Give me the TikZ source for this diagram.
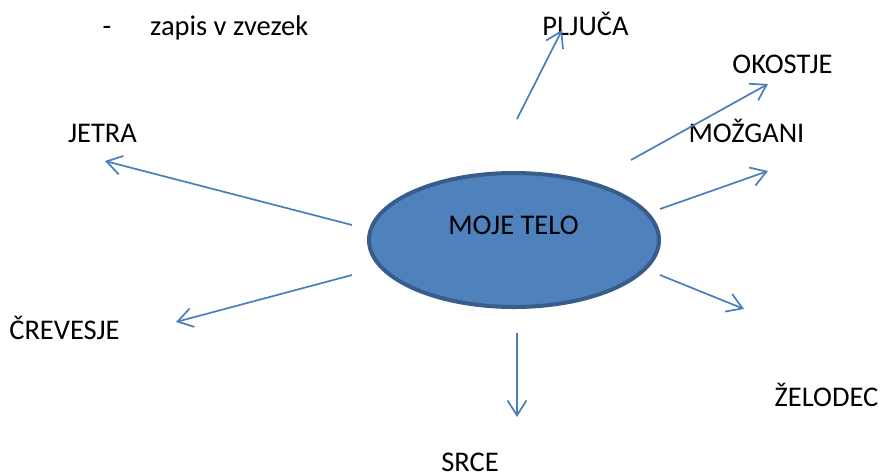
\documentclass[tikz,border=0pt]{standalone}
\usepackage{fontspec}
\setmainfont{Carlito}
\usetikzlibrary{shapes.geometric,arrows.meta}
\definecolor{bodyfill}{HTML}{4F81BD}
\definecolor{bodyline}{HTML}{385D8A}
\definecolor{arrowc}{HTML}{4A7EBB}
\begin{document}
\begin{tikzpicture}[x=1pt,y=-1pt,
  lbl/.style={anchor=base,inner sep=0pt,font=\fontsize{28.5}{34}\selectfont},
  conn/.style={draw=arrowc,line width=1.7pt,-{Straight Barb[length=15pt,width=19pt,line width=1.7pt]}}]
\useasboundingbox (0,0) rectangle (883,475);
\node[ellipse,draw=bodyline,fill=bodyfill,line width=4pt,minimum width=290pt,minimum height=134pt,inner sep=0pt] (body) at (514,240) {};
\node[lbl] (bodytext) at (513.5,234) {MOJE TELO};
\node[lbl] (dash) at (107,35) {-};
\node[lbl,anchor=base west] (zapis) at (150,35) {zapis v zvezek};
\node[lbl] (pljuca) at (585.5,35) {PLJUČA};
\node[lbl] (okostje) at (782.5,73) {OKOSTJE};
\node[lbl] (mozgani) at (746.5,142) {MOŽGANI};
\node[lbl] (jetra) at (102.5,142) {JETRA};
\node[lbl] (crevesje) at (64.5,339) {ČREVESJE};
\node[lbl,text depth=0pt] (srce) at (470,471.5) {SRCE};
\node[lbl] (zelodec) at (826.5,406.5) {ŽELODEC};
\coordinate (a1s) at (517,119); \coordinate (a1e) at (562,30);
\coordinate (a2s) at (631,160); \coordinate (a2e) at (768,84);
\coordinate (a3s) at (660,209); \coordinate (a3e) at (768,171);
\coordinate (a4s) at (660,275); \coordinate (a4e) at (744,309);
\coordinate (a5s) at (517,333); \coordinate (a5e) at (517,417);
\coordinate (a6s) at (352,275); \coordinate (a6e) at (176,322);
\coordinate (a7s) at (352,225); \coordinate (a7e) at (105,161);
\draw[conn] (a1s) -- (a1e);
\draw[conn] (a2s) -- (a2e);
\draw[conn] (a3s) -- (a3e);
\draw[conn] (a4s) -- (a4e);
\draw[conn] (a5s) -- (a5e);
\draw[conn] (a6s) -- (a6e);
\draw[conn] (a7s) -- (a7e);
\end{tikzpicture}
\end{document}
